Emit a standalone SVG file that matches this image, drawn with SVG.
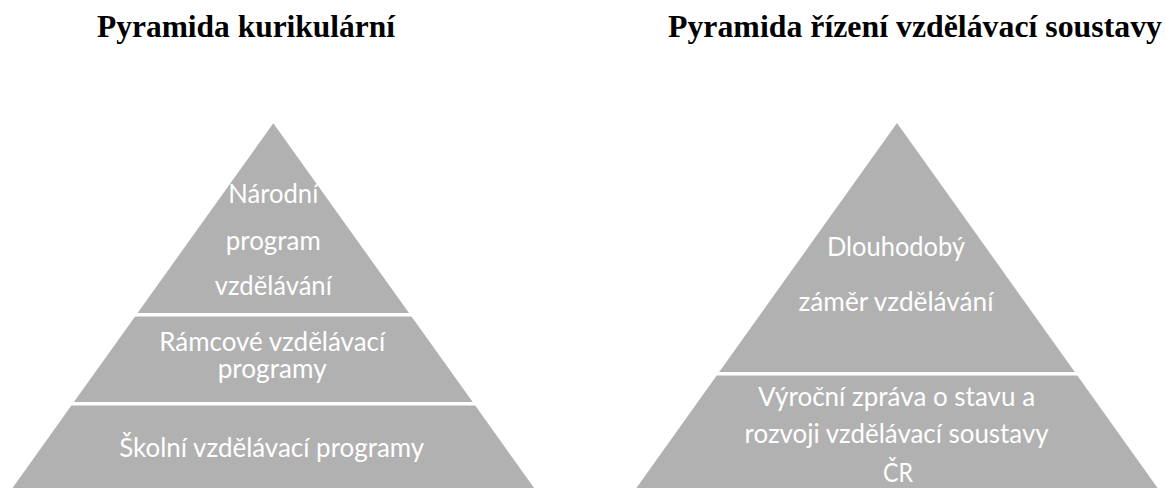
<svg xmlns="http://www.w3.org/2000/svg" width="1165" height="488" viewBox="0 0 1165 488">
<style>
.title{font-family:"Liberation Serif","Times New Roman",serif;font-weight:bold;font-size:31.5px;fill:#000}
.tier{fill:#b1b1b1}
.lbl{font-family:Lato,"Noto Sans",sans-serif;font-size:27.5px;fill:#fff;text-anchor:middle}
</style>
<rect width="1165" height="488" fill="#fff"/>
<g id="title-left"><text class="title" x="97" y="37" textLength="298" lengthAdjust="spacingAndGlyphs">Pyramida kurikulární</text></g>
<g id="title-right"><text class="title" x="668" y="37" textLength="494" lengthAdjust="spacingAndGlyphs">Pyramida řízení vzdělávací soustavy</text></g>

<g id="left-top">
<polygon class="tier" points="273.3,123.3 409,313 137.6,313"/>
<text class="lbl" x="273.3" y="203" textLength="90" lengthAdjust="spacingAndGlyphs">Národní</text>
<text class="lbl" x="273.3" y="250" textLength="95" lengthAdjust="spacingAndGlyphs">program</text>
<text class="lbl" x="273.3" y="295" textLength="117" lengthAdjust="spacingAndGlyphs">vzdělávání</text>
</g>
<g id="left-middle">
<polygon class="tier" points="135.1,316.5 411.5,316.5 472.7,402 73.9,402"/>
<text class="lbl" x="272.2" y="350.7" textLength="226" lengthAdjust="spacingAndGlyphs">Rámcové vzdělávací</text>
<text class="lbl" x="272.2" y="378" textLength="109" lengthAdjust="spacingAndGlyphs">programy</text>
</g>
<g id="left-bottom">
<polygon class="tier" points="71.4,405.5 475.2,405.5 534.8,489 11.8,489"/>
<text class="lbl" x="271.7" y="456.7" textLength="305" lengthAdjust="spacingAndGlyphs">Školní vzdělávací programy</text>
</g>

<g id="right-top">
<polygon class="tier" points="897,123 1074.8,372 719.2,372"/>
<text class="lbl" x="896" y="256" textLength="138" lengthAdjust="spacingAndGlyphs">Dlouhodobý</text>
<text class="lbl" x="896" y="310.5" textLength="195" lengthAdjust="spacingAndGlyphs">záměr vzdělávání</text>
</g>
<g id="right-bottom">
<polygon class="tier" points="716.7,375.5 1077.3,375.5 1158.3,489 635.7,489"/>
<text class="lbl" x="896.6" y="405.5" textLength="277" lengthAdjust="spacingAndGlyphs">Výroční zpráva o stavu a</text>
<text class="lbl" x="896.6" y="443" textLength="304" lengthAdjust="spacingAndGlyphs">rozvoji vzdělávací soustavy</text>
<text class="lbl" x="898" y="482" textLength="30" lengthAdjust="spacingAndGlyphs">ČR</text>
</g>
</svg>
